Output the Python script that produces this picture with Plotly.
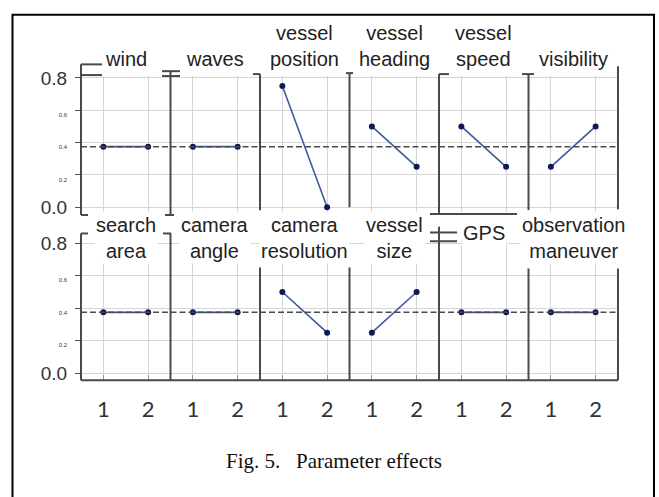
import plotly.graph_objects as go

W, H = 659, 497

# ---------------- data ----------------
levels = [1, 2]
level_labels = ["1", "2"]
top_params = ["wind", "waves", "vessel<br>position", "vessel<br>heading", "vessel<br>speed", "visibility"]
bottom_params = ["search<br>area", "camera<br>angle", "camera<br>resolution", "vessel<br>size", "GPS", "observation<br>maneuver"]
level1_effect = [0.375, 0.375, 0.75, 0.5, 0.5, 0.25, 0.375, 0.375, 0.5, 0.25, 0.375, 0.375]
level2_effect = [0.375, 0.375, 0.0, 0.25, 0.25, 0.5, 0.375, 0.375, 0.25, 0.5, 0.375, 0.375]
grand_mean = 0.375
ytick_vals = [0.0, 0.2, 0.4, 0.6, 0.8]
ytick_text = ["0.0", "0.2", "0.4", "0.6", "0.8"]
big_ticks = ["0.0", "0.8"]
caption = "Fig. 5.   Parameter effects"

# ---------------- layout helpers (page pixel -> paper) ----------------
def px(x):
    return x / W

def py(y):
    return 1 - y / H

col_edges = [81 + i * 89.5 for i in range(7)]
rows = [
    dict(top=70, bottom=210, zero=205, unit=166.25),
    dict(top=238, bottom=383, zero=376, unit=167.5),
]
titles = top_params + bottom_params

GRID = "#d6d6d6"
SEP = "#4a4a4a"
LINE = "#3d5a9e"
MARK = "#0c1a5a"

tick_text_styled = [t if t in big_ticks else '<span style="font-size:6px">%s</span>' % t for t in ytick_text]

fig = go.Figure()
shapes = []
annotations = []

for k in range(12):
    r, c = divmod(k, 6)
    R = rows[r]
    xa = "x" if k == 0 else "x%d" % (k + 1)
    ya = "y" if k == 0 else "y%d" % (k + 1)
    xkey = "xaxis" if k == 0 else "xaxis%d" % (k + 1)
    ykey = "yaxis" if k == 0 else "yaxis%d" % (k + 1)
    yr = [(R["zero"] - R["bottom"]) / R["unit"], (R["zero"] - R["top"]) / R["unit"]]

    fig.add_trace(go.Scatter(
        x=levels, y=[level1_effect[k], level2_effect[k]],
        xaxis=xa, yaxis=ya, mode="lines+markers",
        line=dict(color=LINE, width=1.6),
        marker=dict(color=MARK, size=6),
        showlegend=False, cliponaxis=False, hoverinfo="skip",
    ))

    fig.layout[xkey] = dict(
        domain=[px(col_edges[c]), px(col_edges[c + 1])],
        anchor=ya, range=[0.5, 2.5],
        tickvals=levels, ticktext=level_labels,
        showgrid=True, gridcolor=GRID, gridwidth=1, zeroline=False,
        showline=False,
        showticklabels=(r == 1),
        ticks="inside" if r == 1 else "", ticklen=5, tickcolor="#999",
        tickfont=dict(family="Lato", size=22, color="#333"),
        ticklabelstandoff=14,
    )
    fig.layout[ykey] = dict(
        domain=[py(R["bottom"]), py(R["top"])],
        anchor=xa, range=yr,
        tickvals=ytick_vals, ticktext=tick_text_styled,
        showgrid=True, gridcolor=GRID, gridwidth=1, zeroline=False,
        showline=False,
        showticklabels=(c == 0),
        ticks="outside" if c == 0 else "", ticklen=5, tickcolor="#555",
        tickfont=dict(family="Liberation Sans", size=19, color="#333"),
        ticklabelstandoff=4,
    )

    # grand-mean reference line
    shapes.append(dict(type="line", xref="%s domain" % xa, yref=ya,
                       x0=0, x1=1, y0=grand_mean, y1=grand_mean,
                       line=dict(color="#4a4a4a", width=1.5, dash="6px,3px"), layer="above"))

    cx = (col_edges[c] + col_edges[c + 1]) / 2
    if r == 0:
        annotations.append(dict(text=titles[k], xref="paper", yref="paper",
                                x=px(cx), y=py(66), xanchor="center", yanchor="bottom",
                                showarrow=False,
                                font=dict(family="Liberation Sans", size=20, color="#222")))
    else:
        ty = 237 if "<br>" in titles[k] else 232
        annotations.append(dict(text=titles[k], xref="paper", yref="paper",
                                x=px(cx), y=py(ty), xanchor="center", yanchor="middle",
                                showarrow=False, bgcolor="white", borderpad=1,
                                font=dict(family="Liberation Sans", size=20, color="#222")))

# panel separators and scan-artifact brackets (page pixel coordinates)
seg = [
    # top row
    (81, 58, 81, 213), (81, 58, 102, 58), (81, 69, 102, 69), (81, 213, 88, 213),
    (170.5, 65, 170.5, 213), (162, 65, 180, 65), (162, 70, 180, 70), (165, 213, 174, 213),
    (260, 68, 260, 208), (253, 68, 260, 68),
    (349.5, 67, 349.5, 205), (346, 67, 353, 67),
    (439, 68, 439, 212), (439, 68, 449, 68), (430, 212, 517, 212),
    (528.5, 68, 528.5, 208), (522, 68, 534, 68),
    (618, 60, 618, 207),
    # bottom row
    (81, 232, 81, 383), (81, 232, 88, 232),
    (170.5, 232, 170.5, 383), (163, 232, 171, 232),
    (260, 267, 260, 383),
    (349.5, 267, 349.5, 383),
    (439, 225, 439, 383), (430, 231, 457, 231), (430, 240, 457, 240),
    (528.5, 268, 528.5, 383),
    (618, 268, 618, 383),
    (81, 383, 618, 383),
]
for (x0, y0, x1, y1) in seg:
    shapes.append(dict(type="line", xref="paper", yref="paper",
                       x0=px(x0), y0=py(y0), x1=px(x1), y1=py(y1),
                       line=dict(color=SEP, width=2), layer="above"))

# outer frame
shapes.append(dict(type="rect", xref="paper", yref="paper",
                   x0=px(12.5), y0=py(7), x1=px(654), y1=py(505),
                   line=dict(color="black", width=2)))

annotations.append(dict(text=caption, xref="paper", yref="paper",
                        x=px(334), y=py(466), xanchor="center", yanchor="middle",
                        showarrow=False,
                        font=dict(family="Liberation Serif", size=21, color="#111")))

fig.update_layout(
    width=W, height=H,
    margin=dict(l=0, r=0, t=0, b=0),
    paper_bgcolor="white", plot_bgcolor="white",
    shapes=shapes, annotations=annotations,
    showlegend=False,
)

fig.write_html(
    "out.html",
    config={"displayModeBar": False},
    post_script="document.body.style.margin='0';document.documentElement.style.overflow='hidden';",
)
